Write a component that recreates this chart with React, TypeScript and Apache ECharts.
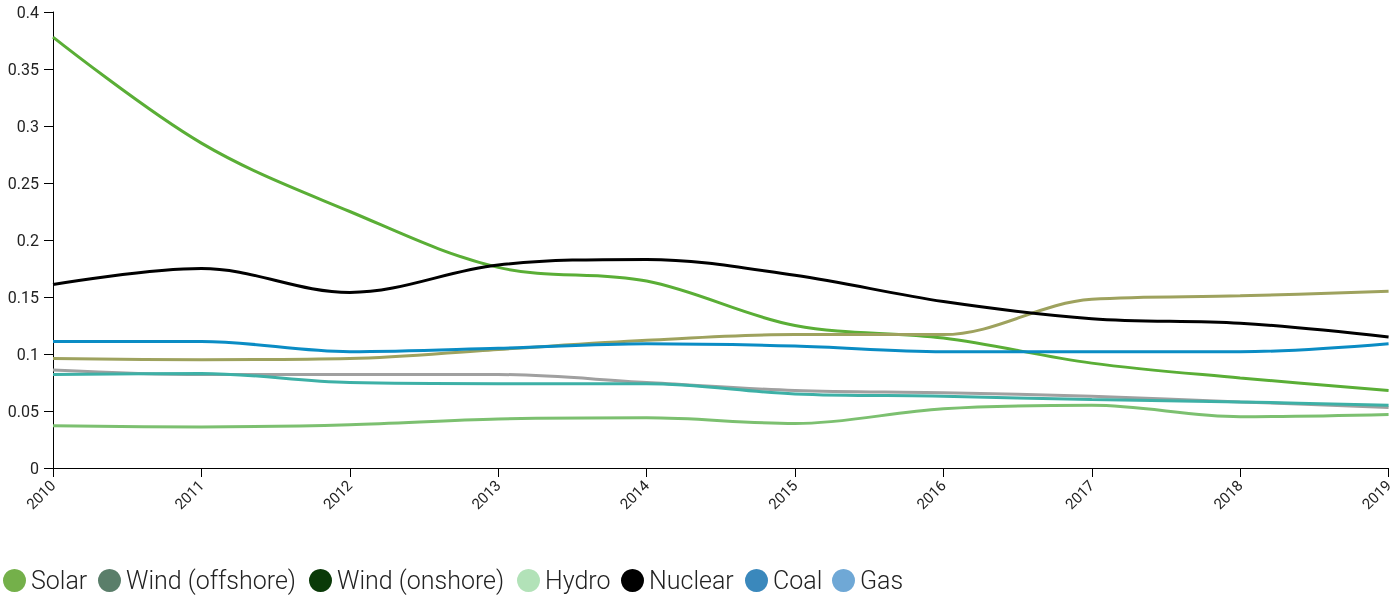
import React, { useEffect, useRef } from "react";
import * as echarts from "echarts";

const years = ["2010", "2011", "2012", "2013", "2014", "2015", "2016", "2017", "2018", "2019"];

const solar = [0.378, 0.285, 0.225, 0.176, 0.164, 0.125, 0.114, 0.092, 0.079, 0.068];
const windOffshore = [0.096, 0.095, 0.096, 0.104, 0.112, 0.117, 0.117, 0.148, 0.151, 0.155];
const windOnshore = [0.086, 0.082, 0.082, 0.082, 0.075, 0.068, 0.066, 0.063, 0.058, 0.053];
const hydro = [0.037, 0.036, 0.038, 0.043, 0.044, 0.039, 0.052, 0.055, 0.045, 0.047];
const nuclear = [0.161, 0.175, 0.154, 0.178, 0.183, 0.169, 0.146, 0.131, 0.127, 0.115];
const coal = [0.111, 0.111, 0.102, 0.105, 0.109, 0.107, 0.102, 0.102, 0.102, 0.109];
const gas = [0.082, 0.083, 0.075, 0.074, 0.074, 0.065, 0.063, 0.060, 0.058, 0.055];

const seriesNames = ["Solar", "Wind (offshore)", "Wind (onshore)", "Hydro", "Nuclear", "Coal", "Gas"];
const seriesData = [solar, windOffshore, windOnshore, hydro, nuclear, coal, gas];
const lineColors = ["#5aae36", "#9ea25e", "#a0a0a0", "#7cc070", "#000000", "#0a8cc4", "#3db0a6"];
const legendColors = ["#74b04a", "#5a7e6a", "#0a3a08", "#b2e2b8", "#000000", "#3a88bc", "#6fa8d6"];
const legendLefts = [3, 98, 309, 517, 621, 745, 832];

export default function App() {
  const ref = useRef<HTMLDivElement>(null);
  useEffect(() => {
    const chart = echarts.init(ref.current!, null, { renderer: "svg" });
    chart.setOption({
      animation: false,
      textStyle: { fontFamily: "Roboto" },
      grid: { left: 53, right: 6, top: 12, bottom: 127, containLabel: false },
      legend: seriesNames.map((n, i) => ({
        left: legendLefts[i],
        top: 568,
        padding: 0,
        icon: "circle",
        itemWidth: 23,
        itemHeight: 23,
        textStyle: { fontSize: 25, lineHeight: 23, color: "#222", fontFamily: "Roboto", fontWeight: 300 },
        data: [{ name: n, itemStyle: { color: legendColors[i] } }],
      })),
      xAxis: {
        type: "category",
        data: years,
        boundaryGap: false,
        axisLine: { lineStyle: { color: "#000", width: 1 } },
        axisTick: { alignWithLabel: true, length: 9, lineStyle: { color: "#000" } },
        axisLabel: { rotate: 45, color: "#222", fontSize: 15, margin: 15 },
      },
      yAxis: {
        type: "value",
        min: 0,
        max: 0.4,
        interval: 0.05,
        axisLine: { show: true, lineStyle: { color: "#000", width: 1 } },
        axisTick: { show: true, length: 9, lineStyle: { color: "#000" } },
        axisLabel: { color: "#222", fontSize: 16, margin: 14 },
        splitLine: { show: false },
      },
      series: seriesNames.map((n, i) => ({
        name: n,
        type: "line",
        data: seriesData[i],
        smooth: 0.35,
        showSymbol: false,
        symbol: "none",
        lineStyle: { color: lineColors[i], width: 3 },
        itemStyle: { color: lineColors[i] },
      })),
    });
    return () => chart.dispose();
  }, []);
  return <div ref={ref} style={{ position: "fixed", left: 0, top: 0, width: 1396, height: 595 }} />;
}
